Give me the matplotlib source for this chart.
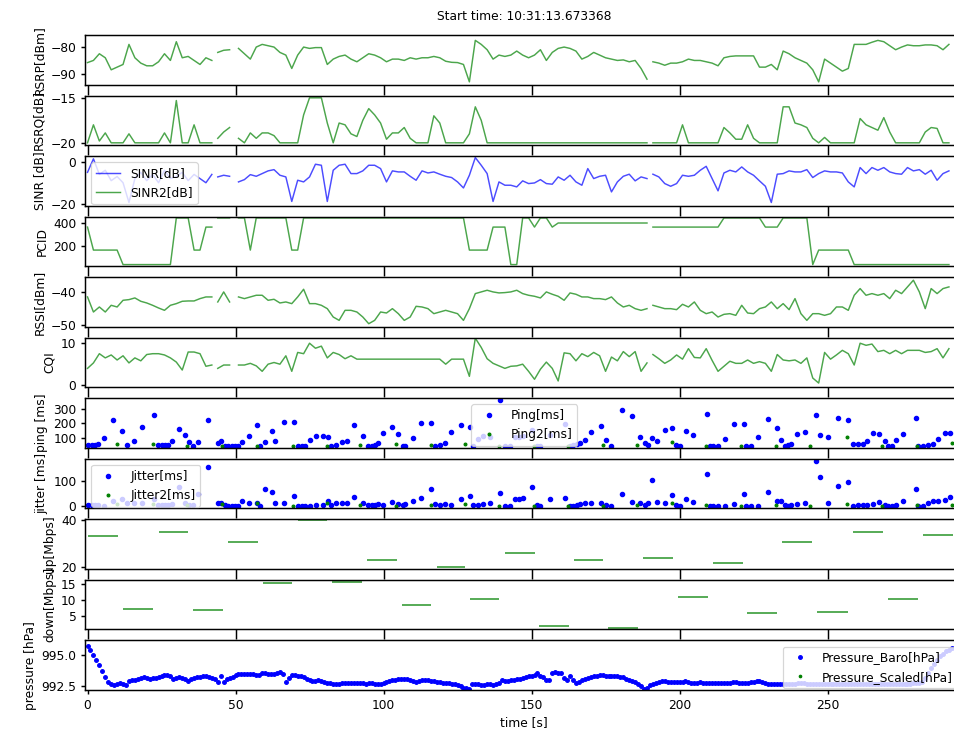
import numpy as np
import matplotlib
matplotlib.use('Agg')
import matplotlib.pyplot as plt

nan = np.nan

# LTE modem log, sampled every ~2 s, nan marks the dropouts
t_lte = np.r_[np.arange(0, 43, 2), 43, np.arange(44, 49, 2), 49.5,
              np.arange(51, 190, 2), 190, np.arange(191, 292, 2)]

rsrp = [-85.8, -85, -82.5, -84, -88.5, -87.5, -86.5, -79, -84, -86, -87,
        -87, -85.5, -82.5, -85, -78, -84, -83.5, -85, -86.5, -84, -85,
        nan, -82, -81.2, -81, nan,
        -80.5, -82.5, -84.5, -80, -79, -79.5, -80, -82, -83, -88,
        -83, -80, -80.5, -80.2, -80.2, -86.5, -84.5, -83.5, -83, -84.5,
        -85.5, -84, -82.5, -83, -84, -85.5, -84.5, -84.5, -85, -84,
        -84.5, -84, -84, -83.5, -84, -85.3, -85.7, -85.8, -86.5, -93,
        -77.5, -79, -81, -84.5, -83, -83.5, -83, -81.5, -83, -84,
        -83, -81, -85, -82, -80.5, -80, -80.5, -81.5, -84.5, -83.5,
        -82, -83, -84, -84.5, -85, -84.8, -85.5, -85, -88, -92,
        nan,
        -85.5, -86, -86.8, -86, -86, -85.5, -84.5, -85, -85, -85.5,
        -86, -87, -84, -83.5, -83.3, -83.3, -83.3, -83.3, -87.5, -87.5,
        -86.5, -88.5, -81.5, -82.5, -84, -85, -86, -88.5, -93, -84.5,
        -86, -87.5, -89, -88, -79, -79, -79, -78.2, -77.5, -78,
        -79.5, -81, -80, -79.2, -79.5, -79.5, -79.2, -79.2, -79.5, -81,
        -79]

rsrq = [-20, -18, -19.8, -18.9, -20, -20, -20, -19, -20, -20, -20,
        -20, -20, -18.9, -20, -15.3, -20, -20, -18, -20, -20, -20,
        nan, -19.5, -18.8, -18.3, nan,
        -19.5, -20, -18.9, -19.5, -18.9, -18.9, -19.2, -20, -20, -20,
        -20, -16.9, -15, -15, -15, -17.8, -20, -17.8, -18, -19,
        -19.3, -17.5, -16.2, -16.9, -17.8, -19.6, -18.9, -18.9, -18.3, -19.5,
        -20, -20, -20, -17, -17.8, -20, -20, -20, -20, -19,
        -16, -17.5, -20, -20, -20, -20, -20, -20, -20, -20,
        -20, -20, -20, -20, -20, -20, -20, -20, -20, -20,
        -20, -20, -20, -20, -20, -20, -20, -20, -20, -20,
        nan,
        -20, -20, -20, -20, -20, -18, -20, -20, -20, -20,
        -20, -20, -18.3, -18.9, -19.6, -19.6, -18, -19.5, -20, -20,
        -20, -20, -16, -16, -17.8, -18, -18.3, -19.5, -20, -19.4,
        -20, -20, -20, -20, -20, -17.3, -18, -18.3, -18.6, -17.2,
        -18.8, -20, -20, -20, -20, -20, -18.8, -18.3, -18.4, -20,
        -20]

sinr = [-5, 1.5, -6, -4, -9, -7, -10, -19.5, -8, -5, -9,
        -6, -10, -4, -8, -7, -5, -9, -6, -8, -10, -6,
        nan, -7.2, -6.4, -6.9, nan,
        -9.6, -8.5, -6.1, -6.9, -5.6, -4.3, -3.7, -6.4, -7.2, -19,
        -8.8, -9.6, -7.2, -1.1, -1.6, -19, -4, -1.6, -1.1, -5.6,
        -5.6, -4.3, -1.6, -1.6, -3.2, -9.6, -4.3, -4.8, -4.8, -6.9,
        -8.8, -4.3, -5.3, -4.8, -5.9, -6.9, -7.5, -9.6, -12.5, -6.4,
        2.1, -1.6, -5.6, -19, -9.6, -11.2, -11.2, -12, -9.1, -10.4,
        -10.1, -8.5, -10.4, -10.7, -7.2, -8.8, -6.4, -9.6, -11.2, -3.2,
        -8, -6.9, -6.4, -14.4, -9.6, -6.9, -5.9, -9.1, -7.2, -8,
        nan,
        -5.9, -7.2, -10.4, -11.7, -10.4, -6.4, -6.9, -6.4, -4, -2.1,
        -8, -13.9, -5.3, -4, -4.8, -2.4, -4.8, -6.4, -9.1, -11.7,
        -19.5, -5.9, -5.6, -4.3, -4.8, -4.8, -3.7, -7.5, -5.6, -4.3,
        -4.8, -4.8, -5.3, -9.6, -12, -2.7, -5.6, -2.7, -4, -2.7,
        -4.8, -5.6, -5.9, -2.7, -4.3, -3.7, -5.9, -4, -8.8, -5.6,
        -4.3]

pcid = [364, 161, 161, 161, 161, 161, 33, 33, 33, 33, 33,
        33, 33, 33, 33, 445, 445, 445, 161, 161, 364, 364,
        nan, 445, 445, 445, nan,
        445, 445, 161, 445, 445, 445, 445, 445, 445, 161,
        161, 445, 445, 445, 445, 445, 445, 445, 445, 445,
        445, 445, 445, 445, 445, 445, 445, 445, 445, 445,
        445, 445, 445, 445, 445, 445, 445, 445, 445, 161,
        161, 161, 161, 364, 364, 364, 33, 33, 445, 445,
        364, 445, 445, 364, 400, 400, 400, 400, 400, 400,
        400, 400, 400, 400, 400, 400, 400, 400, 400, 400,
        nan,
        364, 364, 364, 364, 364, 364, 364, 364, 364, 364,
        364, 364, 445, 445, 445, 445, 445, 445, 445, 364,
        364, 364, 445, 445, 445, 445, 445, 33, 161, 161,
        161, 161, 161, 161, 33, 33, 33, 33, 33, 33,
        33, 33, 33, 33, 33, 33, 33, 33, 33, 33,
        33]

rssi = [-41.5, -46, -44.5, -46, -44, -44.5, -42.5, -42.3, -41.8, -42.8, -43.3,
        -44, -44.8, -45.5, -44, -43.5, -42.8, -42.7, -42.7, -42, -41.5, -41.5,
        nan, -43, -40, -43, nan,
        -41.5, -42, -41.5, -41, -41, -42.5, -42.2, -43.3, -43, -43.5,
        -41.5, -39.2, -43.5, -43.5, -44, -45, -47.5, -48.5, -45.5, -45.5,
        -46, -47.5, -49.5, -48.5, -46, -46.3, -45, -46.5, -48.5, -47.5,
        -44.3, -44.5, -45, -46.5, -46, -45.5, -46, -46.5, -48.5, -45,
        -40.5, -40, -39.5, -40, -40.3, -40.2, -40, -39.5, -40.5, -41,
        -41.3, -41.8, -40, -40.7, -41.3, -42.5, -40.3, -40.7, -41.5, -41.5,
        -42, -42, -42.3, -41.5, -43.3, -44.5, -44, -45, -45.5, -45,
        nan,
        -44, -44.5, -45, -45, -45.3, -43.7, -44.5, -43, -45.5, -46.5,
        -46, -47.5, -46.7, -46.5, -47, -44, -46.3, -46.5, -45, -44.5,
        -43, -45, -43.5, -45.3, -42, -46.5, -48.5, -46.5, -46.5, -47,
        -46.5, -44.5, -44.5, -45.5, -41, -39, -41, -40.5, -41, -40.5,
        -42, -39.5, -40.5, -38.5, -36.5, -40, -45, -39, -40.5, -39,
        -38.5]

cqi = [4, 5.3, 7.5, 6.5, 7.2, 6, 7, 5.3, 6.5, 5.8, 7.3,
       7.5, 7.5, 7.2, 6.5, 5.5, 3.6, 7.9, 7.9, 7.5, 4.5, 4.8,
       nan, 4, 4.8, 4.8, nan,
       4.8, 4.8, 5.2, 4.6, 3.3, 5, 5.4, 5, 7, 3.3,
       7.8, 7.5, 10, 8.8, 9.3, 6.5, 7.8, 7.3, 6.3, 7,
       6.2, 6.2, 6.2, 6.2, 6.2, 6.2, 6.2, 6.2, 6.2, 6.2,
       6.2, 6.2, 6.2, 6.2, 6.2, 5, 6.2, 6.2, 6.2, 2.1,
       11.2, 9, 6.3, 5.2, 4.6, 4, 4.5, 4.6, 5, 3.3,
       1.4, 3.8, 5.5, 4, 1, 7.7, 7.5, 5.8, 7.5, 6.8,
       7.8, 7, 3.3, 6.7, 5.8, 8, 6.8, 8, 3.3, 5.3,
       nan,
       7.3, 6.3, 5.2, 6, 7.2, 6.2, 8.7, 6.6, 6.5, 8.7,
       5.9, 3.3, 4.5, 5.7, 5.2, 5.2, 6, 5.2, 5.6, 5.2,
       3.3, 7.3, 6, 5.8, 6, 5.2, 6.5, 1.7, 0.5, 7.8,
       6.2, 7.2, 8.3, 7.5, 4.8, 10, 9.5, 9.8, 8, 8.3,
       7.5, 8.3, 7.5, 8.3, 8.3, 8.3, 7.8, 8, 8.7, 6.5,
       8.7]

# ping / jitter tests
ping_t = [0.2, 1.4, 2.5, 3.6, 5.5, 8.7, 11.8, 13.5, 15.7, 18.3, 22.4, 23.9,
          25.0, 26.1, 27.3, 28.4, 31.0, 32.9, 34.2, 35.7, 37.4, 40.8, 44.2,
          45.1, 46.4, 47.5, 48.7, 49.8, 50.9, 52.3, 54.4, 57.2, 58.2, 59.9,
          62.2, 63.3, 66.3, 69.7, 71.2, 72.3, 73.4, 75.3, 77.3, 79.4, 81.3,
          82.4, 84.1, 86.1, 87.5, 90.1, 93.1, 94.8, 96.0, 97.1, 98.2, 99.7,
          102.7, 104.9, 106.6, 107.2, 109.8, 112.6, 116.2, 117.3, 119.0,
          120.7, 122.9, 126.3, 129.1, 130.1, 132.0, 133.7, 136.0, 139.3,
          141.0, 142.7, 144.3, 145.8, 147.2, 150.3, 151.7, 152.8, 156.2,
          161.2, 162.9, 164.0, 165.2, 166.3, 168.0, 170.2, 173.3, 175.3,
          176.7, 180.4, 184.1, 186.8, 188.3, 189.4, 190.8, 192.4, 195.0,
          197.6, 198.7, 200.1, 202.3, 204.4, 209.3, 210.2, 211.3, 213.0,
          215.3, 218.4, 221.7, 222.6, 224.3, 226.5, 229.9, 232.9, 234.4,
          235.5, 236.7, 237.8, 239.7, 242.3, 246.0, 247.6, 250.2, 253.6,
          256.9, 258.6, 260.3, 262.0, 263.3, 265.4, 267.4, 269.3, 270.4,
          271.6, 273.2, 275.5, 280.0, 280.6, 282.3, 284.0, 285.6, 287.3,
          289.6, 291.3]
ping_ms = [49, 49, 49, 56, 95, 223, 149, 49, 79, 177, 258, 49,
           49, 49, 49, 79, 158, 121, 67, 44, 67, 219, 60,
           74, 44, 44, 44, 44, 44, 67, 112, 188, 44, 67,
           149, 74, 205, 205, 44, 44, 44, 83, 114, 114, 102,
           44, 51, 67, 74, 188, 112, 44, 44, 51, 60, 130,
           172, 126, 44, 44, 97, 202, 202, 44, 51,
           60, 137, 188, 172, 44, 90, 110, 102, 357,
           44, 44, 102, 102, 110, 150, 44, 44, 120,
           195, 44, 49, 56, 60, 84, 137, 184, 84,
           44, 288, 247, 102, 60, 51, 97, 74, 153,
           167, 51, 44, 149, 121, 265, 44, 44, 44,
           90, 191, 191, 44, 44, 102, 226, 165, 84,
           44, 51, 56, 126, 137, 260, 119, 102, 235,
           223, 56, 56, 56, 79, 130, 126, 79, 44,
           44, 84, 126, 235, 44, 44, 49, 56, 90,
           130, 130]
jitter_ms = [6, 6, 6, 6, 3, 23, 28, 13, 13, 13, 28, 6,
             6, 6, 6, 10, 77, 13, 6, 6, 47, 156, 13,
             15, 6, 3, 3, 3, 3, 23, 13, 13, 3, 67,
             58, 15, 15, 41, 3, 3, 3, 3, 6, 6, 20,
             6, 13, 13, 13, 36, 13, 6, 6, 6, 10, 6,
             19, 10, 6, 10, 23, 32, 67, 10, 6,
             10, 6, 28, 41, 6, 6, 10, 15, 54,
             3, 3, 28, 28, 31, 77, 6, 3, 28,
             31, 0, 3, 5, 10, 15, 15, 15, 6,
             3, 47, 19, 15, 6, 15, 103, 17, 15,
             45, 6, 3, 28, 19, 128, 3, 3, 3,
             3, 9, 47, 3, 3, 3, 56, 22, 22,
             6, 3, 6, 9, 13, 180, 118, 15, 79,
             96, 3, 6, 6, 6, 9, 18, 6, 3,
             3, 6, 22, 67, 3, 3, 13, 22, 22,
             26, 36]

ping2_t = [9.8, 22.0, 33.7, 45.3, 57.2, 69.3, 80.8, 92.2, 104.2, 116.2, 127.5,
           139.1, 150.8, 162.4, 174.2, 185.7, 197.6, 209.1, 220.9, 232.5,
           244.2, 256.6, 268.5, 280.2, 292.2]
ping2_ms = [56, 56, 44, 44, 44, 44, 44, 51, 56, 49, 56, 44, 44, 44, 51, 51,
            67, 44, 44, 44, 44, 102, 44, 44, 60]
jitter2_ms = [9, 9, 6, 9, 15, 3, 15, 6, 3, 6, 9, 3, 3, 3, 3, 6, 13, 6, 3, 6,
              3, 10, 3, 6, 6]

# throughput tests (start, end, rate)
up_start = [0.3, 24, 47.4, 71, 94.3, 118, 141, 164.4, 187.6, 211.4, 234.5, 258.7, 282.4]
up_end = [10.4, 34, 57.5, 80.8, 104.5, 127.5, 151.2, 174.3, 197.9, 221.3, 244.7, 268.8, 292.5]
up_mbps = [33.0, 34.7, 30.4, 39.7, 22.9, 20.0, 26.1, 23.0, 24.0, 21.8, 30.8, 34.7, 33.7]

down_start = [12.1, 35.7, 59.2, 82.7, 106.1, 129.2, 152.6, 175.9, 199.6, 222.9, 246.3, 270.5]
down_end = [22.2, 45.7, 69.2, 92.6, 116.0, 139.1, 162.7, 186.1, 209.5, 232.8, 257.0, 280.7]
down_mbps = [7.2, 7.0, 15.1, 15.5, 8.25, 10.4, 2.0, 1.25, 10.8, 5.9, 6.15, 10.3]

# barometer, one reading per second
t_baro = np.arange(0, 293)
pressure = [995.74, 995.40, 995.05, 994.65, 994.20, 993.75, 993.25, 992.85, 992.65, 992.63,
            992.70, 992.76, 992.71, 992.60, 992.95, 993.03, 993.03, 993.10, 993.16, 993.22,
            993.15, 993.11, 993.15, 993.18, 993.28, 993.37, 993.40, 993.42, 993.29, 993.05,
            993.15, 993.22, 993.18, 993.05, 992.90, 993.10, 993.20, 993.24, 993.28, 993.35,
            993.30, 993.24, 993.15, 993.11, 992.84, 993.37, 992.84, 993.11, 993.18, 993.24,
            993.45, 993.50, 993.50, 993.50, 993.50, 993.48, 993.50, 993.45, 993.42, 993.60,
            993.55, 993.50, 993.50, 993.50, 993.60, 993.63, 993.50, 992.84, 993.16, 993.45,
            993.45, 993.37, 993.30, 993.24, 993.10, 993.03, 992.95, 992.92, 993.00, 992.95,
            992.84, 992.80, 992.75, 992.71, 992.71, 992.71, 992.73, 992.76, 992.76, 992.76,
            992.76, 992.76, 992.76, 992.74, 992.71, 992.74, 992.76, 992.72, 992.68, 992.66,
            992.76, 992.84, 992.92, 992.97, 993.00, 993.05, 993.08, 993.11, 993.05, 992.97,
            992.90, 992.84, 992.92, 992.97, 993.03, 993.00, 992.95, 992.92, 992.88, 992.84,
            992.80, 992.76, 992.74, 992.71, 992.66, 992.60, 992.55, 992.40, 992.35, 992.32,
            992.71, 992.68, 992.66, 992.60, 992.58, 992.71, 992.65, 992.58, 992.70, 992.79,
            993.00, 992.95, 992.92, 993.00, 993.03, 993.08, 993.11, 993.20, 993.26, 993.29,
            993.35, 993.40, 993.55, 993.29, 993.25, 993.00, 992.97, 993.55, 993.62, 993.60,
            993.55, 993.18, 992.97, 993.29, 993.00, 992.76, 992.85, 992.97, 993.10, 993.20,
            993.25, 993.30, 993.32, 993.38, 993.42, 993.35, 993.29, 993.33, 993.37, 993.30,
            993.25, 993.24, 993.10, 992.97, 992.90, 992.84, 992.70, 992.50, 992.32, 992.39,
            992.60, 992.71, 992.80, 992.84, 992.90, 992.92, 992.88, 992.84, 992.84, 992.84,
            992.84, 992.88, 992.92, 992.84, 992.78, 992.76, 992.80, 992.84, 992.80, 992.79,
            992.79, 992.79, 992.79, 992.78, 992.77, 992.76, 992.78, 992.80, 992.82, 992.84,
            992.80, 992.78, 992.76, 992.80, 992.84, 992.86, 992.90, 992.92, 992.85, 992.76,
            992.70, 992.66, 992.68, 992.71, 992.68, 992.66, 992.66, 992.68, 992.70, 992.71,
            992.74, 992.76, 992.74, 992.72, 992.71, 992.71, 992.69, 992.67, 992.66, 992.66,
            992.66, 992.66, 992.66, 992.66, 992.67, 992.68, 992.70, 992.71, 992.70, 992.68,
            992.67, 992.66, 992.68, 992.70, 992.71, 992.69, 992.67, 992.66, 992.67, 992.69,
            992.71, 992.69, 992.67, 992.66, 992.67, 992.69, 992.70, 992.71, 992.72, 992.74,
            992.76, 992.78, 992.84, 993.20, 993.60, 994.00, 994.29, 994.60, 994.95, 995.10,
            995.34, 995.45, 995.58]

GREEN = (0.0, 0.5, 0.0, 0.7)
BLUE = (0.0, 0.0, 1.0, 0.7)


def line_panel(ax, values, label, ylim, ticks):
    ax.plot(t_lte, values, color=GREEN, linewidth=1.2)
    ax.set_ylabel(label)
    ax.set_ylim(ylim)
    ax.set_yticks(ticks)


def main():
    plt.rcParams['axes.linewidth'] = 1.2
    fig, axes = plt.subplots(11, 1, sharex=True, figsize=(954 / 88, 742 / 88), dpi=88)
    fig.subplots_adjust(left=0.0891, right=1.0102, top=0.9528, bottom=0.0701, hspace=0.223)

    axes[0].set_title('Start time: 10:31:13.673368', fontsize=10, pad=12)
    line_panel(axes[0], rsrp, 'RSRP[dBm]', (-94, -75.5), [-90, -80])
    line_panel(axes[1], rsrq, 'RSRQ[dB]', (-20.25, -14.75), [-20, -15])

    ax = axes[2]
    ax.plot(t_lte, sinr, color=BLUE, linewidth=1.2, label='SINR[dB]')
    ax.plot([], [], color=GREEN, linewidth=1.2, label='SINR2[dB]')
    ax.set_ylabel('SINR [dB]')
    ax.set_ylim(-21, 2.8)
    ax.set_yticks([-20, 0])
    ax.legend(loc='upper left')

    line_panel(axes[3], pcid, 'PCID', (19, 456), [200, 400])
    line_panel(axes[4], rssi, 'RSSI[dBm]', (-50.4, -35.6), [-50, -40])
    line_panel(axes[5], cqi, 'CQI', (-0.5, 11.3), [0, 10])

    ax = axes[6]
    ax.plot(ping_t, ping_ms, 'b.', markersize=7, label='Ping[ms]')
    ax.plot(ping2_t, ping2_ms, 'g.', markersize=4.5, label='Ping2[ms]')
    ax.set_ylabel('ping [ms]')
    ax.set_ylim(30, 372)
    ax.set_yticks([100, 200, 300])
    ax.legend(loc='upper center')

    ax = axes[7]
    ax.plot(ping_t, jitter_ms, 'b.', markersize=7, label='Jitter[ms]')
    ax.plot(ping2_t, jitter2_ms, 'g.', markersize=4.5, label='Jitter2[ms]')
    ax.set_ylabel('jitter [ms]')
    ax.set_ylim(-8, 188)
    ax.set_yticks([0, 100])
    ax.legend(loc='upper left')

    ax = axes[8]
    ax.hlines(up_mbps, up_start, up_end, colors=[GREEN], linewidth=1.5)
    ax.set_ylabel('up[Mbps]')
    ax.set_ylim(19.3, 40.1)
    ax.set_yticks([20, 40])

    ax = axes[9]
    ax.hlines(down_mbps, down_start, down_end, colors=[GREEN], linewidth=1.5)
    ax.set_ylabel('down[Mbps]')
    ax.set_ylim(0.8, 16.2)
    ax.set_yticks([5, 10, 15])

    ax = axes[10]
    ax.plot(t_baro, pressure, 'b.', markersize=6, label='Pressure_Baro[hPa]')
    ax.plot([], [], 'g.', markersize=4, label='Pressure_Scaled[hPa]')
    ax.set_ylabel('pressure [hPa]')
    ax.set_ylim(992.2, 996.2)
    ax.set_yticks([992.5, 995.0])
    ax.legend(loc='upper right')

    # long ticks on the stacked panels fill the gap down to the next panel
    for a in axes[:-1]:
        a.tick_params(axis='x', length=8, width=1.2)
    axes[-1].tick_params(axis='x', width=1.2)
    for a in axes:
        a.tick_params(axis='y', width=1.2)

    ax.set_xlim(-0.85, 296)
    ax.set_xticks([0, 50, 100, 150, 200, 250])
    ax.set_xlabel('time [s]')

    fig.savefig('out.png', dpi=88)


if __name__ == '__main__':
    main()
